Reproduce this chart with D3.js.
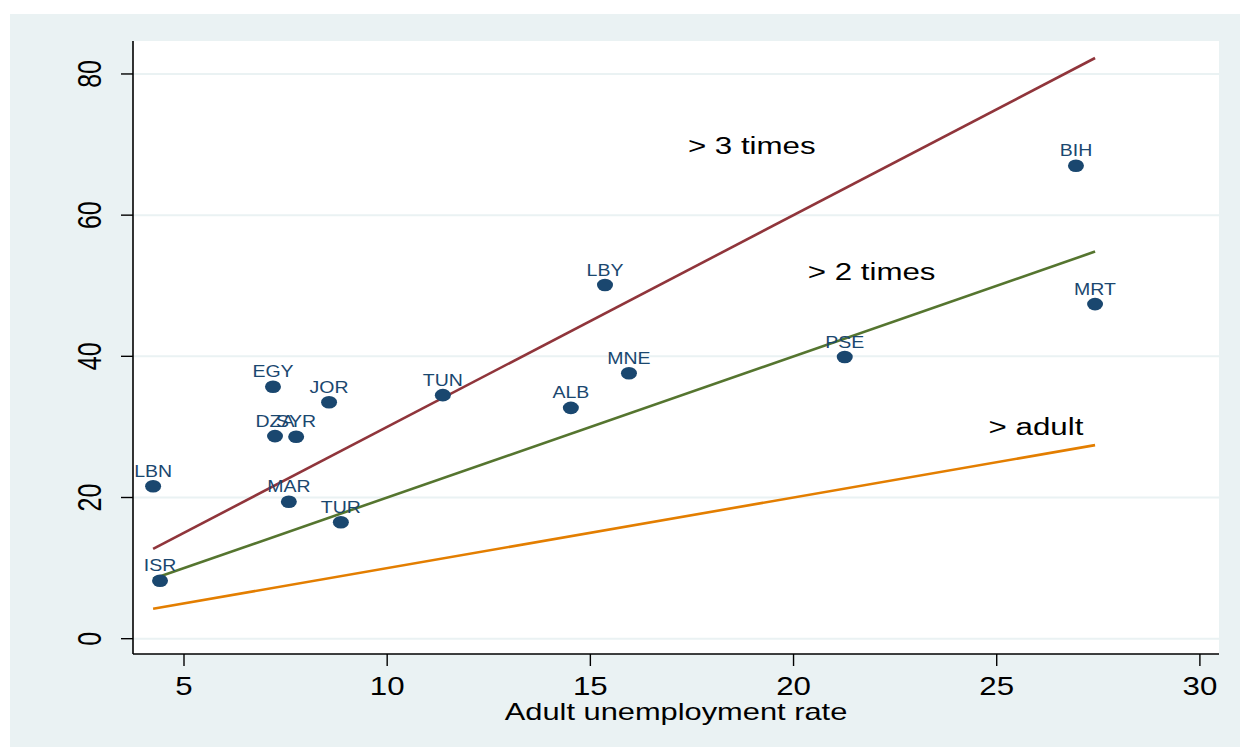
<!DOCTYPE html>
<html>
<head>
<meta charset="utf-8">
<script src="https://cdn.jsdelivr.net/npm/d3@7"></script>
<style>
  html, body { margin: 0; padding: 0; background: #ffffff; }
  svg { display: block; }
  text { font-family: "Liberation Sans", Arial, sans-serif; }
</style>
</head>
<body>
<svg id="chart" width="1240" height="747"></svg>
<script>
// Youth vs adult unemployment rates, with reference lines at 1x, 2x and 3x
const countries = ["BIH", "MRT", "PSE", "LBY", "MNE", "ALB", "TUN", "JOR", "EGY", "DZA", "SYR", "LBN", "MAR", "TUR", "ISR"];
const adultRate = [26.95, 27.42, 21.26, 15.36, 15.95, 14.52, 11.37, 8.57, 7.19, 7.24, 7.76, 4.24, 7.58, 8.86, 4.41];
const youthRate = [67.0, 47.4, 39.9, 50.1, 37.6, 32.7, 34.5, 33.5, 35.7, 28.7, 28.6, 21.6, 19.4, 16.5, 8.2];

const xTicks = [5, 10, 15, 20, 25, 30];
const yTicks = [0, 20, 40, 60, 80];

// reference lines youth = k * adult
const ratioMultipliers = [3, 2, 1];
const ratioColors = ["#90353b", "#55752f", "#e37e00"];
const ratioLabels = ["> 3 times", "> 2 times", "> adult"];
const ratioLabelX = [17.4, 20.35, 24.8];
const ratioLabelY = [68.6, 50.8, 28.8];

const xTitle = "Adult unemployment rate";

const svg = d3.select("#chart");
const W = 1240, H = 747;
const plot = { left: 133, right: 1219, top: 41, bottom: 654 };

// outer graph region
svg.append("rect").attr("x", 10).attr("y", 14).attr("width", W - 10).attr("height", H - 14)
  .attr("fill", "#eaf2f3");
// plot region
svg.append("rect").attr("x", plot.left).attr("y", plot.top)
  .attr("width", plot.right - plot.left).attr("height", plot.bottom - plot.top)
  .attr("fill", "#ffffff");

const x = d3.scaleLinear().domain([3.745, 30.47]).range([plot.left, plot.right]);
const y = d3.scaleLinear().domain([-2.17, 84.67]).range([plot.bottom, plot.top]);

// horizontal grid
svg.append("g").selectAll("line").data(yTicks).join("line")
  .attr("x1", plot.left).attr("x2", plot.right)
  .attr("y1", d => y(d)).attr("y2", d => y(d))
  .attr("stroke", "#eaf2f3").attr("stroke-width", 2);

// reference lines across the observed range of adult rates
const xMin = d3.min(adultRate), xMax = d3.max(adultRate);
svg.append("g").selectAll("line").data(ratioMultipliers).join("line")
  .attr("x1", x(xMin)).attr("x2", x(xMax))
  .attr("y1", k => y(k * xMin)).attr("y2", k => y(k * xMax))
  .attr("stroke", (k, i) => ratioColors[i]).attr("stroke-width", 2.6);

// line annotations (horizontally widened type)
svg.append("g").selectAll("text").data(ratioLabels).join("text")
  .attr("transform", (d, i) => `translate(${x(ratioLabelX[i])},${y(ratioLabelY[i])}) scale(1.36,1)`)
  .attr("font-size", 23).attr("fill", "#000")
  .text(d => d);

// points
const pts = countries.map((c, i) => ({ c, ax: adultRate[i], yr: youthRate[i] }));
svg.append("g").selectAll("ellipse").data(pts).join("ellipse")
  .attr("cx", d => x(d.ax)).attr("cy", d => y(d.yr))
  .attr("rx", 8).attr("ry", 6.3)
  .attr("fill", "#1a476f");

svg.append("g").selectAll("text").data(pts).join("text")
  .attr("transform", d => `translate(${x(d.ax)},${y(d.yr) - 9.5}) scale(1.22,1)`)
  .attr("text-anchor", "middle").attr("font-size", 16)
  .attr("fill", "#1a476f")
  .text(d => d.c);

// axes
const axisG = svg.append("g").attr("stroke", "#000");
axisG.append("line").attr("x1", plot.left).attr("x2", plot.left)
  .attr("y1", plot.top).attr("y2", plot.bottom).attr("stroke-width", 1.6);
axisG.append("line").attr("x1", plot.left).attr("x2", plot.right)
  .attr("y1", plot.bottom).attr("y2", plot.bottom).attr("stroke-width", 1.6);

// y ticks + rotated labels
svg.append("g").selectAll("line").data(yTicks).join("line")
  .attr("x1", plot.left - 12).attr("x2", plot.left)
  .attr("y1", d => y(d)).attr("y2", d => y(d))
  .attr("stroke", "#000").attr("stroke-width", 1.4);
svg.append("g").selectAll("text").data(yTicks).join("text")
  .attr("transform", d => `translate(${plot.left - 32},${y(d)}) scale(1.3,1) rotate(-90)`)
  .attr("text-anchor", "middle").attr("font-size", 25)
  .attr("fill", "#000")
  .text(d => d);

// x ticks + labels
svg.append("g").selectAll("line").data(xTicks).join("line")
  .attr("x1", d => x(d)).attr("x2", d => x(d))
  .attr("y1", plot.bottom).attr("y2", plot.bottom + 12)
  .attr("stroke", "#000").attr("stroke-width", 1.4);
svg.append("g").selectAll("text").data(xTicks).join("text")
  .attr("transform", d => `translate(${x(d)},${plot.bottom + 41}) scale(1.25,1)`)
  .attr("text-anchor", "middle").attr("font-size", 25)
  .attr("fill", "#000")
  .text(d => d);

// x axis title
svg.append("text")
  .attr("transform", `translate(${(plot.left + plot.right) / 2},${plot.bottom + 66}) scale(1.34,1)`)
  .attr("text-anchor", "middle").attr("font-size", 23)
  .attr("fill", "#000")
  .text(xTitle);
</script>
</body>
</html>
